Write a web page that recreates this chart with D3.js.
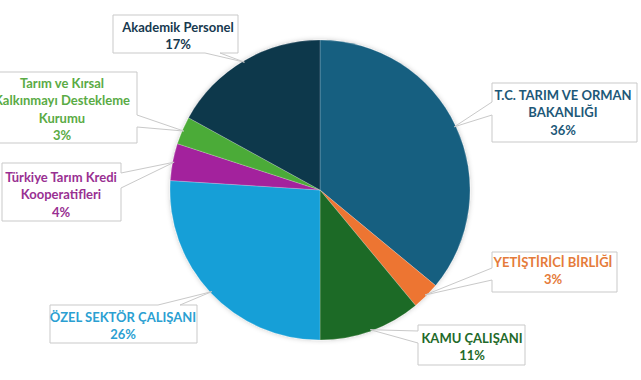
<!DOCTYPE html>
<html><head><meta charset="utf-8">
<script src="https://cdn.jsdelivr.net/npm/d3@7"></script>
<style>html,body{margin:0;padding:0;background:#fff;overflow:hidden}</style>
</head><body>
<svg id="c" width="641" height="380"></svg>
<script>
const categories = ["T.C. TARIM VE ORMAN BAKANLIĞI","YETİŞTİRİCİ BİRLİĞİ","KAMU ÇALIŞANI","ÖZEL SEKTÖR ÇALIŞANI","Türkiye Tarım Kredi Kooperatifleri","Tarım ve Kırsal Kalkınmayı Destekleme Kurumu","Akademik Personel"];
const values = [36, 3, 11, 26, 4, 3, 17];
const labelLines = [
  ["T.C. TARIM VE ORMAN","BAKANLIĞI"],
  ["YETİŞTİRİCİ BİRLİĞİ"],
  ["KAMU ÇALIŞANI"],
  ["ÖZEL SEKTÖR ÇALIŞANI"],
  ["Türkiye Tarım Kredi","Kooperatifleri"],
  ["Tarım ve Kırsal","Kalkınmayı Destekleme","Kurumu"],
  ["Akademik Personel"]
];
const sliceColors = ["#175f80","#ed7533","#1f6b25","#159fd7","#a3239d","#4cab37","#0e374c"];
const textColors  = ["#1d5878","#e57b3a","#1f6a2a","#2b9fd2","#993092","#5aab45","#17394f"];

// label box layout (styling/positioning)
const boxes = [
  {x:492,y:83,w:145,h:59,side:"left",t0:102,t1:115,cx:563,y0:95},
  {x:492,y:252,w:125,h:40,side:"left",t0:268,t1:280,cx:553,y0:262},
  {x:418,y:325,w:107,h:40,side:"left",t0:331,t1:343,cx:472,y0:338},
  {x:50,y:305,w:147,h:38,side:"top",t0:158,t1:180,cx:123,y0:317},
  {x:2,y:163,w:119,h:58,side:"right",t0:173,t1:188,cx:61,y0:177},
  {x:-13,y:72,w:150,h:71,side:"right",t0:115,t1:127,cx:62,y0:83},
  {x:113,y:15,w:125,h:38,side:"bottom",t0:205,t1:220,cx:178,y0:27}
];
const lineGap = 17.5;

const svg = d3.select("#c");
const cx = 320, cy = 190, R = 150;

const defs = svg.append("defs");
const f = defs.append("filter").attr("id","sh").attr("x","-20%").attr("y","-20%").attr("width","140%").attr("height","140%");
f.append("feDropShadow").attr("dx",0).attr("dy",0).attr("stdDeviation",2.5).attr("flood-color","#000").attr("flood-opacity",0.22);

const pie = d3.pie().sort(null).value(d=>d);
const arcs = pie(values);
const arc = d3.arc().innerRadius(0).outerRadius(R);
const tipArc = d3.arc().innerRadius(R*0.99).outerRadius(R*0.99);

const g = svg.append("g").attr("transform",`translate(${cx},${cy})`);
g.append("g").attr("filter","url(#sh)")
  .selectAll("path").data(arcs).join("path")
  .attr("d",arc).attr("fill",(d,i)=>sliceColors[i])
  .attr("stroke","rgba(255,255,255,0.35)").attr("stroke-width",0.6);

function calloutPath(b, tip){
  const {x,y,w,h,side,t0,t1} = b;
  const [tx,ty] = tip;
  let p;
  if(side==="top") p=[[x,y],[t0,y],[tx,ty],[t1,y],[x+w,y],[x+w,y+h],[x,y+h]];
  else if(side==="right") p=[[x,y],[x+w,y],[x+w,t0],[tx,ty],[x+w,t1],[x+w,y+h],[x,y+h]];
  else if(side==="bottom") p=[[x,y],[x+w,y],[x+w,y+h],[t1,y+h],[tx,ty],[t0,y+h],[x,y+h]];
  else p=[[x,y],[x+w,y],[x+w,y+h],[x,y+h],[x,t1],[tx,ty],[x,t0]];
  return "M"+p.map(q=>q.join(",")).join("L")+"Z";
}

const lg = svg.append("g");
arcs.forEach((d,i)=>{
  const b = boxes[i];
  const c = tipArc.centroid(d);
  const tip = [c[0]+cx, c[1]+cy];
  lg.append("path").attr("d",calloutPath(b,tip))
    .attr("fill","#fff").attr("stroke","#c9c9c9").attr("stroke-width",1);
  const lines = labelLines[i].concat([values[i]+"%"]);
  const t = lg.append("text").attr("text-anchor","middle")
    .attr("font-family","Lato, 'Open Sans', sans-serif").attr("font-weight",700)
    .attr("font-size",13).attr("fill",textColors[i]);
  lines.forEach((s,k)=>{
    t.append("tspan").attr("x",b.cx).attr("y",b.y0+k*lineGap).attr("dy","0.35em").text(s);
  });
});
</script>
</body></html>
